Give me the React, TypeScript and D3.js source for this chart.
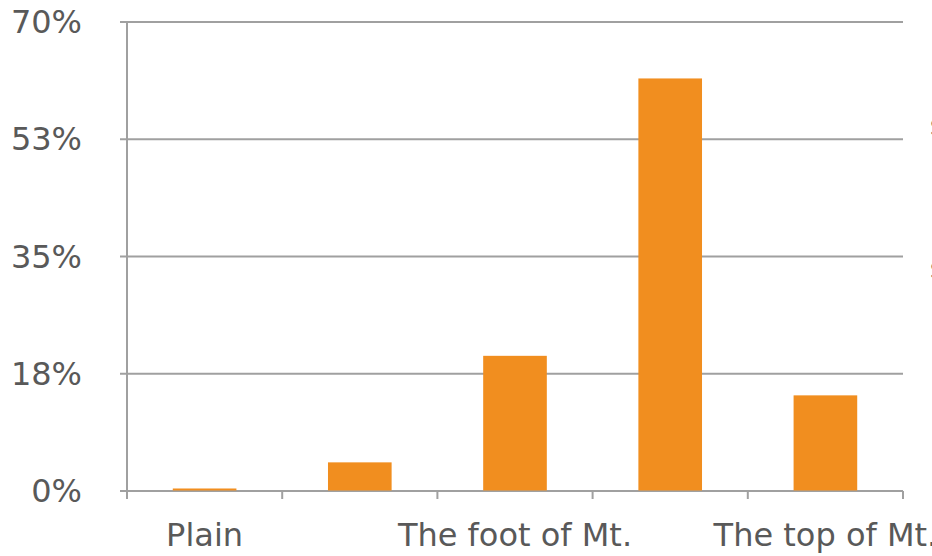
import React from "react";
import * as d3 from "d3";

const categories = ["Plain", "Hills", "The foot of Mt.", "Mid Mt.", "The top of Mt."];
const shownLabels = ["Plain", "", "The foot of Mt.", "", "The top of Mt."];
const values = [0.3, 4.2, 20.1, 61.5, 14.2];
const yTicks = [0, 17.5, 35, 52.5, 70];
const yTickLabels = ["0%", "18%", "35%", "53%", "70%"];
const legendLabels = ["Series1", "Series2"];

const W = 932;
const H = 556;
const M = { left: 127, right: 903, top: 22, bottom: 491 };
const FONT = "'DejaVu Sans', Verdana, sans-serif";
const GRID = "#a0a0a0";
const TEXT = "#595959";
const BAR = "#f18e1f";

export default function App() {
  const x = d3.scaleBand<string>().domain(categories).range([M.left, M.right]).paddingInner(0.59).paddingOuter(0.295);
  const band = (M.right - M.left) / categories.length;
  const y = d3.scaleLinear().domain([0, 70]).range([M.bottom, M.top]);
  const boundaries = d3.range(categories.length + 1).map((i) => M.left + i * band);

  return (
    <svg width={W} height={H} style={{ position: "absolute", left: 0, top: 0, background: "#fff" }}>
      {yTicks.map((t, i) => (
        <g key={t}>
          <line x1={M.left - 7} x2={M.right} y1={y(t)} y2={y(t)} stroke={GRID} strokeWidth={2} />
          <text x={82} y={y(t)} textAnchor="end" dominantBaseline="central" fontFamily={FONT} fontSize={32} fill={TEXT}>
            {yTickLabels[i]}
          </text>
        </g>
      ))}
      <line x1={M.left} x2={M.left} y1={M.top} y2={M.bottom} stroke={GRID} strokeWidth={2} />
      <line x1={M.left - 7} x2={M.right} y1={M.bottom} y2={M.bottom} stroke={GRID} strokeWidth={2} />
      {boundaries.map((b, i) => (
        <line key={i} x1={b} x2={b} y1={M.bottom} y2={M.bottom + 8} stroke={GRID} strokeWidth={2} />
      ))}
      {categories.map((c, i) => (
        <rect key={c} x={x(c)!} width={x.bandwidth()} y={y(values[i]) - 0.5} height={y(0) - y(values[i])} fill={BAR} />
      ))}
      {categories.map((c, i) => (
        <text key={c} x={x(c)! + x.bandwidth() / 2} y={546} textAnchor="middle" fontFamily={FONT} fontSize={32} fill={TEXT}>
          {shownLabels[i]}
        </text>
      ))}
      {legendLabels.map((l, i) => (
        <text key={l} x={930} y={135 + i * 143} fontFamily={FONT} fontSize={22} fill={TEXT}>
          {l}
        </text>
      ))}
    </svg>
  );
}
